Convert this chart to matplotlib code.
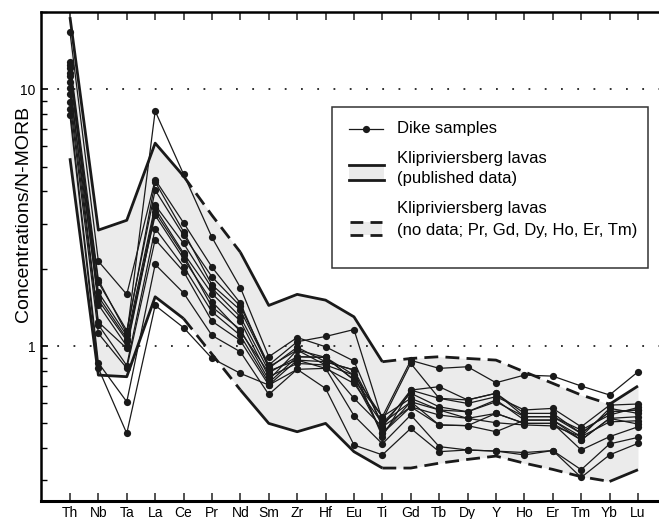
import numpy as np
import matplotlib
matplotlib.use("Agg")
import matplotlib.pyplot as plt
from matplotlib.patches import Rectangle
from matplotlib.lines import Line2D
from matplotlib.ticker import LogLocator, FixedLocator, NullFormatter

plt.rcParams["font.family"] = ["Liberation Sans", "DejaVu Sans"]

ELEMENTS = ["Th", "Nb", "Ta", "La", "Ce", "Pr", "Nd", "Sm", "Zr", "Hf", "Eu",
            "Ti", "Gd", "Tb", "Dy", "Y", "Ho", "Er", "Tm", "Yb", "Lu"]
NO_DATA = ["Pr", "Gd", "Dy", "Ho", "Er", "Tm"]

# Klipriviersberg lavas envelope (upper / lower)
LAVA_UPPER = [19.1, 2.83, 3.09, 6.17, 4.59, 3.23, 2.32, 1.44, 1.59, 1.51, 1.30,
              0.869, 0.895, 0.909, 0.895, 0.882, 0.794, 0.716, 0.645, 0.594, 0.699]
LAVA_LOWER = [5.39, 0.771, 0.76, 1.556, 1.28, 0.93, 0.675, 0.50, 0.464, 0.50, 0.388,
              0.335, 0.335, 0.35, 0.362, 0.373, 0.35, 0.331, 0.31, 0.297, 0.33]

# dike samples, one list per sample
DIKE_A = [12.4, 1.62, 1.10, 8.23, 4.67, 2.65, 1.69, 0.909, 1.08, 0.994, 0.874,
          0.485, 0.674, 0.695, 0.617, 0.655, 0.547, 0.547, 0.457, 0.555, 0.564]
DIKE_B = [10.1, 1.51, 1.05, 3.23, 2.19, 1.49, 1.14, 0.787, 0.909, 0.904, 0.738,
          0.531, 0.88, 0.819, 0.831, 0.72, 0.771, 0.764, 0.699, 0.645, 0.794]
DIKE_C = [11.3, 1.77, 1.15, 4.05, 2.70, 1.86, 1.43, 0.844, 1.04, 1.09, 1.16,
          0.515, 0.856, 0.626, 0.598, 0.635, 0.564, 0.572, 0.485, 0.589, 0.595]
DIKE_D = [16.7, 2.14, 1.59, 4.45, 3.02, 2.03, 1.47, 0.819, 0.99, 0.869, 0.807,
          0.50, 0.655, 0.58, 0.555, 0.607, 0.531, 0.531, 0.471, 0.539, 0.577]
DIKE_E = [12.8, 1.81, 1.12, 4.36, 2.79, 1.73, 1.38, 0.83, 0.965, 0.844, 0.771,
          0.531, 0.626, 0.564, 0.555, 0.617, 0.515, 0.515, 0.444, 0.572, 0.547]
DIKE_F = [12.1, 1.56, 1.07, 3.54, 2.51, 1.68, 1.30, 0.80, 0.882, 0.819, 0.716,
          0.50, 0.607, 0.564, 0.523, 0.547, 0.50, 0.50, 0.431, 0.523, 0.531]
DIKE_G = [11.6, 1.45, 1.00, 3.44, 2.30, 1.60, 1.25, 0.76, 0.856, 0.844, 0.626,
          0.485, 0.58, 0.539, 0.523, 0.503, 0.493, 0.489, 0.444, 0.507, 0.512]
DIKE_H = [10.7, 1.24, 0.98, 3.33, 2.26, 1.42, 1.16, 0.738, 0.965, 0.904, 0.771,
          0.457, 0.607, 0.493, 0.49, 0.464, 0.515, 0.515, 0.431, 0.523, 0.497]
DIKE_I = [9.57, 1.21, 0.84, 2.87, 2.04, 1.36, 1.10, 0.72, 0.909, 0.904, 0.738,
          0.457, 0.58, 0.493, 0.49, 0.547, 0.50, 0.50, 0.394, 0.444, 0.485]
DIKE_J = [8.93, 1.12, 0.82, 2.60, 1.95, 1.25, 1.05, 0.705, 0.812, 0.819, 0.536,
          0.416, 0.539, 0.406, 0.394, 0.39, 0.385, 0.392, 0.33, 0.416, 0.441]
DIKE_K = [8.36, 0.86, 0.607, 2.08, 1.61, 1.10, 0.95, 0.648, 0.812, 0.684, 0.412,
          0.377, 0.478, 0.388, 0.394, 0.39, 0.377, 0.392, 0.308, 0.377, 0.418]
DIKE_L = [7.92, 0.82, 0.457, 1.44, 1.18, 0.896, 0.783, 0.705, 0.882, 0.869, 0.807,
          0.444, 0.674, 0.626, 0.617, 0.655, 0.531, 0.531, 0.457, 0.555, 0.564]
DIKES = [DIKE_A, DIKE_B, DIKE_C, DIKE_D, DIKE_E, DIKE_F,
         DIKE_G, DIKE_H, DIKE_I, DIKE_J, DIKE_K, DIKE_L]

W, H = 659, 519
BAND = "#ebebeb"


def fx(px):
    return px / W


def fy(py):
    return 1 - py / H


def draw_envelope(ax, x, vals):
    # solid where both ends have data, dashed where one end is a gap element
    dashed = [(ELEMENTS[i] in NO_DATA or ELEMENTS[i + 1] in NO_DATA)
              for i in range(len(x) - 1)]
    i = 0
    while i < len(dashed):
        j = i
        while j < len(dashed) and dashed[j] == dashed[i]:
            j += 1
        ls = (0, (5, 2.6)) if dashed[i] else "-"
        ax.plot(x[i:j + 1], vals[i:j + 1], color="#1a1a1a", lw=2.0, ls=ls,
                solid_capstyle="butt", dash_capstyle="butt", zorder=2)
        i = j


def main():
    fig = plt.figure(figsize=(W / 100, H / 100), dpi=100)
    ax = fig.add_axes([fx(41), fy(500.7), 1 - fx(41), (500.7 - 12) / H])
    x = np.arange(len(ELEMENTS))

    ax.fill_between(x, LAVA_LOWER, LAVA_UPPER, color=BAND, lw=0, zorder=1)
    for v in (1, 10):
        ax.axhline(v, color="#222", lw=1.3, ls=(0, (1, 8)), zorder=1.5)
    draw_envelope(ax, x, LAVA_UPPER)
    draw_envelope(ax, x, LAVA_LOWER)

    for s in DIKES:
        ax.plot(x, s, color="#1a1a1a", lw=0.9, marker="o", ms=5.2,
                markeredgewidth=0, zorder=3)

    ax.set_yscale("log")
    ax.set_ylim(0.25, 20)
    ax.set_xlim(-1.02, 20.74)
    ax.set_xticks(x)
    ax.set_xticklabels(ELEMENTS, fontsize=10)
    ax.yaxis.set_major_locator(FixedLocator([1, 10]))
    ax.set_yticklabels(["1", "10"], fontsize=10)
    ax.yaxis.set_minor_locator(LogLocator(base=10, subs=np.arange(2, 10)))
    ax.yaxis.set_minor_formatter(NullFormatter())
    ax.tick_params(axis="x", direction="in", top=True, length=6, width=1.2,
                   color="#333", pad=4)
    ax.tick_params(axis="y", which="major", direction="in", length=5, width=1.2, pad=4)
    ax.tick_params(axis="y", which="minor", direction="in", length=4, width=1.0)
    ax.spines["right"].set_visible(False)
    ax.spines["bottom"].set_linewidth(2.2)
    ax.spines["left"].set_linewidth(1.8)
    ax.spines["top"].set_linewidth(1.8)
    ax.set_ylabel("Concentrations/N-MORB", fontsize=14)
    ax.yaxis.set_label_coords((32 - 41) / 618, (500.7 - 214) / 488.7)

    # legend box drawn by hand
    fig.patches.append(Rectangle((fx(332), fy(268)), fx(648) - fx(332), (268 - 107) / H,
                                 transform=fig.transFigure, facecolor="white",
                                 edgecolor="#333", lw=1.1, zorder=5))
    fig.lines.append(Line2D([fx(349), fx(383)], [fy(129), fy(129)], color="#1a1a1a",
                            lw=0.9, transform=fig.transFigure, zorder=6))
    fig.lines.append(Line2D([fx(366)], [fy(129)], color="#1a1a1a", marker="o", ms=5.2,
                            markeredgewidth=0, transform=fig.transFigure, zorder=6))
    fig.patches.append(Rectangle((fx(349), fy(180)), fx(384) - fx(349), 15 / H,
                                 transform=fig.transFigure, facecolor=BAND,
                                 lw=0, zorder=6))
    for py in (165, 180):
        fig.lines.append(Line2D([fx(349), fx(384)], [fy(py), fy(py)], color="#1a1a1a",
                                lw=2.0, transform=fig.transFigure, zorder=7))
    fig.patches.append(Rectangle((fx(350), fy(235)), fx(382) - fx(350), 13 / H,
                                 transform=fig.transFigure, facecolor=BAND,
                                 lw=0, zorder=6))
    for py in (222, 235):
        fig.lines.append(Line2D([fx(350), fx(382)], [fy(py), fy(py)], color="#1a1a1a",
                                lw=2.0, ls=(0, (4.6, 2.6)), dash_capstyle="butt",
                                transform=fig.transFigure, zorder=7))
    labels = [(129, "Dike samples"), (158, "Klipriviersberg lavas"),
              (179, "(published data)"), (209, "Klipriviersberg lavas"),
              (230, "(no data; Pr, Gd, Dy, Ho, Er, Tm)")]
    for py, t in labels:
        fig.text(fx(397), fy(py), t, fontsize=12, va="center", ha="left", zorder=8)

    fig.savefig("out.png", dpi=100)


if __name__ == "__main__":
    main()
